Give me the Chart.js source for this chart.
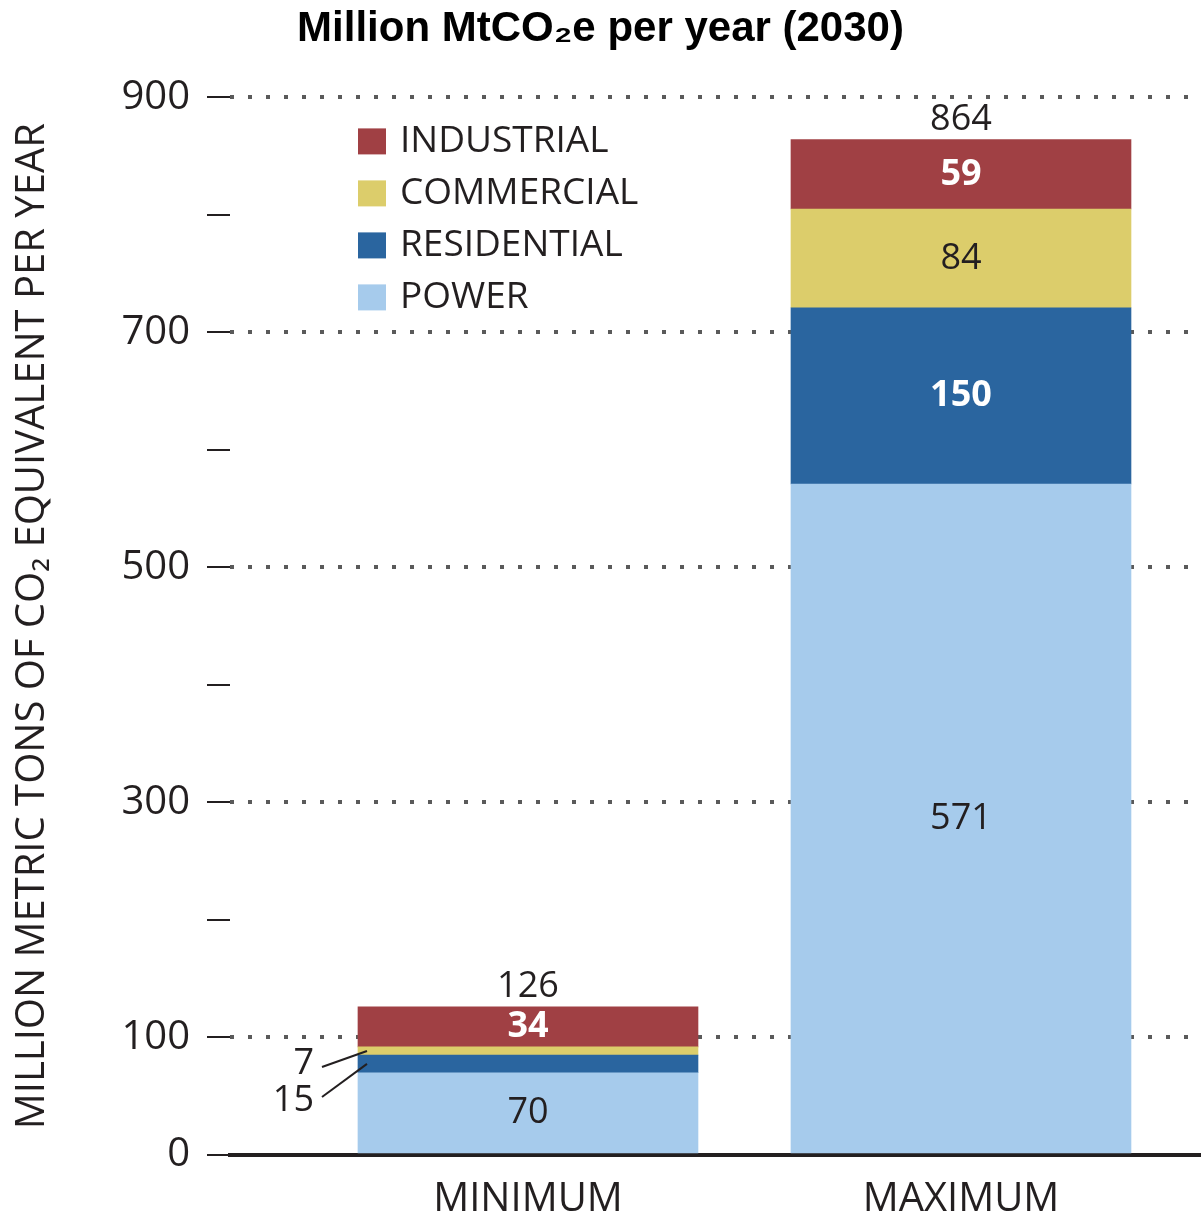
<!DOCTYPE html>
<html><head><meta charset="utf-8">
<script src="https://cdn.jsdelivr.net/npm/chart.js@4.4.1/dist/chart.umd.min.js"></script>
<style>html,body{margin:0;padding:0;background:#fff;} canvas{display:block;}</style>
</head><body>
<canvas id="c" width="1201" height="1217"></canvas>
<script>
const categories = ['MINIMUM', 'MAXIMUM'];
const power = [70, 571];
const residential = [15, 150];
const commercial = [7, 84];
const industrial = [34, 59];
const totals = [126, 864];
const yTickLabels = [0, 100, 300, 500, 700, 900];

const TEXT = '#231f20';
const FONT = "'Open Sans', 'Noto Sans', sans-serif";

function series(values) { return categories.map((c, i) => ({ x: i, y: values[i] })); }

const valueLabels = {
  id: 'valueLabels',
  afterDatasetsDraw(chart) {
    const ctx = chart.ctx;
    ctx.save();
    categories.forEach((c, i) => {
      const small = [];
      let topY = null, cx = null, left = null;
      chart.data.datasets.forEach((ds, d) => {
        const el = chart.getDatasetMeta(d).data[i];
        const p = el.getProps(['x', 'y', 'base', 'width'], true);
        cx = p.x; left = p.x - p.width / 2;
        topY = topY === null ? p.y : Math.min(topY, p.y);
        const h = p.base - p.y, cy = (p.y + p.base) / 2;
        if (h >= 30) {
          ctx.font = `${ds.labelWeight} 36px ${FONT}`;
          ctx.fillStyle = ds.labelColor;
          ctx.textAlign = 'center'; ctx.textBaseline = 'middle';
          ctx.fillText(String(ds.data[i].y), p.x, cy);
        } else {
          small.push({ v: ds.data[i].y, cy });
        }
      });
      small.sort((a, b) => a.cy - b.cy);
      small.forEach((s, k) => {
        const ly = small[0].cy + 13 + 37 * k;
        ctx.strokeStyle = TEXT; ctx.lineWidth = 2;
        ctx.beginPath(); ctx.moveTo(left - 36, ly + (k === 0 ? 3 : -4)); ctx.lineTo(left + 9, s.cy); ctx.stroke();
        ctx.font = `400 36px ${FONT}`; ctx.fillStyle = TEXT;
        ctx.textAlign = 'right'; ctx.textBaseline = 'middle';
        ctx.fillText(String(s.v), left - 44, ly);
      });
      ctx.font = `400 36px ${FONT}`; ctx.fillStyle = TEXT;
      ctx.textAlign = 'center'; ctx.textBaseline = 'middle';
      ctx.fillText(String(totals[i]), cx, topY - 20);
    });
    ctx.restore();
  }
};

const boxLegend = {
  id: 'boxLegend',
  afterDraw(chart) {
    const ctx = chart.ctx, a = chart.chartArea;
    const x0 = a.left + 128, y0 = a.top + 44, step = 52;
    const items = chart.data.datasets.slice().reverse();
    ctx.save();
    ctx.font = `400 37px ${FONT}`; ctx.textBaseline = 'middle'; ctx.textAlign = 'left';
    items.forEach((ds, k) => {
      const cy = y0 + k * step;
      ctx.fillStyle = ds.backgroundColor; ctx.fillRect(x0, cy - 13, 28, 26);
      ctx.fillStyle = TEXT; ctx.fillText(ds.label, x0 + 42, cy);
    });
    ctx.restore();
  }
};

new Chart(document.getElementById('c'), {
  type: 'bar',
  data: {
    datasets: [
      { label: 'POWER', data: series(power), backgroundColor: '#a6cbec', labelColor: TEXT, labelWeight: 400 },
      { label: 'RESIDENTIAL', data: series(residential), backgroundColor: '#2a659f', labelColor: '#ffffff', labelWeight: 700 },
      { label: 'COMMERCIAL', data: series(commercial), backgroundColor: '#dccd6b', labelColor: TEXT, labelWeight: 400 },
      { label: 'INDUSTRIAL', data: series(industrial), backgroundColor: '#a04044', labelColor: '#ffffff', labelWeight: 700 }
    ]
  },
  options: {
    responsive: false,
    animation: false,
    layout: { padding: 0 },
    datasets: { bar: { barThickness: 340, borderWidth: 0 } },
    plugins: {
      legend: { display: false },
      tooltip: { enabled: false },
      title: {
        display: true,
        text: 'Million MtCO₂e per year (2030)',
        color: '#000000',
        font: { family: "'Liberation Sans', Arial, sans-serif", size: 42, weight: 'bold', lineHeight: 1.2 },
        padding: { top: 4, bottom: 43 }
      }
    },
    scales: {
      x: {
        type: 'linear', stacked: true, bounds: 'data', offset: false,
        min: -0.6882, max: 1.5543,
        afterBuildTicks: s => { s.ticks = categories.map((c, i) => ({ value: i })); },
        afterFit: s => { s.height = 62; },
        grid: { display: false, drawTicks: false, offset: false },
        border: { display: true, color: TEXT, width: 4 },
        ticks: {
          callback: v => categories[v] ?? '',
          color: TEXT, font: { family: FONT, size: 40 }, padding: 21, maxRotation: 0, autoSkip: false
        }
      },
      y: {
        stacked: true, min: 0, max: 900,
        afterFit: s => { s.width = 230; },
        border: { display: false, dash: [4, 14] },
        grid: {
          color: c => (c.tick && c.tick.value !== 0 && yTickLabels.includes(c.tick.value)) ? '#5a5a5a' : 'rgba(0,0,0,0)',
          lineWidth: 4, drawTicks: true, tickLength: 23, tickColor: TEXT, tickWidth: 2
        },
        ticks: {
          stepSize: 100, autoSkip: false, padding: 17, color: TEXT,
          font: { family: FONT, size: 40 },
          callback: v => yTickLabels.includes(v) ? String(v) : ''
        },
        title: {
          display: true,
          text: 'MILLION METRIC TONS OF CO₂ EQUIVALENT PER YEAR',
          color: TEXT, font: { family: FONT, size: 40 },
          padding: { top: 9, bottom: 0 }
        }
      }
    }
  },
  plugins: [valueLabels, boxLegend]
});
</script>
</body></html>
